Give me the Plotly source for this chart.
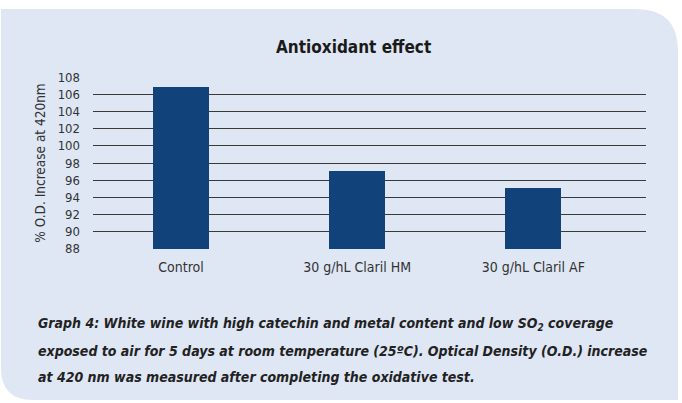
import plotly.graph_objects as go

categories = ["Control", "30 g/hL Claril HM", "30 g/hL Claril AF"]
values = [106.9, 97.1, 95.1]
y_ticks = list(range(88, 110, 2))
caption_lines = [
    "Graph 4: White wine with high catechin and metal content and low SO<sub>2</sub> coverage",
    "exposed to air for 5 days at room temperature (25ºC). Optical Density (O.D.) increase",
    "at 420 nm was measured after completing the oxidative test.",
]

W, H = 682, 403
L, R, T, B = 93, 646, 77, 249
BASE = 88

def px(x):
    return (x - L) / (R - L)

def py(y):
    return (B - y) / (B - T)

# panel path (decoration) in paper coords
pl, pt, pr, pb = 1, 9, 678, 400
rtr, rbl = 42, 32
path = (
    f"M {px(pl)},{py(pt)} "
    f"L {px(pr - rtr)},{py(pt)} "
    f"Q {px(pr)},{py(pt)} {px(pr)},{py(pt + rtr)} "
    f"L {px(pr)},{py(pb)} "
    f"L {px(pl + rbl)},{py(pb)} "
    f"Q {px(pl)},{py(pb)} {px(pl)},{py(pb - rbl)} Z"
)

fig = go.Figure()
fig.add_trace(go.Bar(
    x=[0, 1, 2], y=[v - BASE for v in values], base=BASE,
    marker=dict(color="#12427a", line=dict(width=0)),
    width=0.317,
))

fnt = "DejaVu Sans Condensed, sans-serif"
ann = [
    dict(text="<b>Antioxidant effect</b>", xref="paper", yref="paper",
         x=px(353), y=py(47), xanchor="center", yanchor="middle",
         showarrow=False, font=dict(family=fnt, size=17, color="#1a1a1a")),
]
for i, (line, yc) in enumerate(zip(caption_lines, [324, 351, 377])):
    ann.append(dict(text=f"<b><i>{line}</i></b>", xref="paper", yref="paper",
                    x=px(36), y=py(yc), xanchor="left", yanchor="middle",
                    align="left", showarrow=False,
                    font=dict(family=fnt, size=14, color="#222222")))

fig.update_layout(
    width=W, height=H,
    margin=dict(l=L, r=W - R, t=T, b=H - B, pad=0, autoexpand=False),
    paper_bgcolor="white",
    plot_bgcolor="rgba(0,0,0,0)",
    showlegend=False,
    bargap=0,
    shapes=[dict(type="path", path=path, xref="paper", yref="paper",
                 fillcolor="#dfe7f5", line=dict(width=0), layer="below")],
    xaxis=dict(
        range=[-0.5, 2.64], tickmode="array", tickvals=[0, 1, 2],
        ticktext=categories, showgrid=False, zeroline=False, showline=False,
        ticks="", tickfont=dict(family=fnt, size=14, color="#333333"),
        ticklabelstandoff=8, automargin=False,
    ),
    yaxis=dict(
        range=[87.98, 108.02], tickmode="array", tickvals=y_ticks,
        ticktext=[str(t) for t in y_ticks],
        showgrid=True, gridcolor="#3a3a3a", gridwidth=1.3,
        zeroline=False, showline=False, ticks="",
        tickfont=dict(family=fnt, size=13, color="#333333"),
        ticklabelstandoff=12, automargin=False,
        title=dict(text="% O.D. Increase at 420nm", standoff=8,
                   font=dict(family=fnt, size=13.5, color="#333333")),
    ),
    annotations=ann,
)
fig.write_html("out.html", config={"displayModeBar": False},
               post_script="document.body.style.margin='0';document.body.style.padding='0';")
